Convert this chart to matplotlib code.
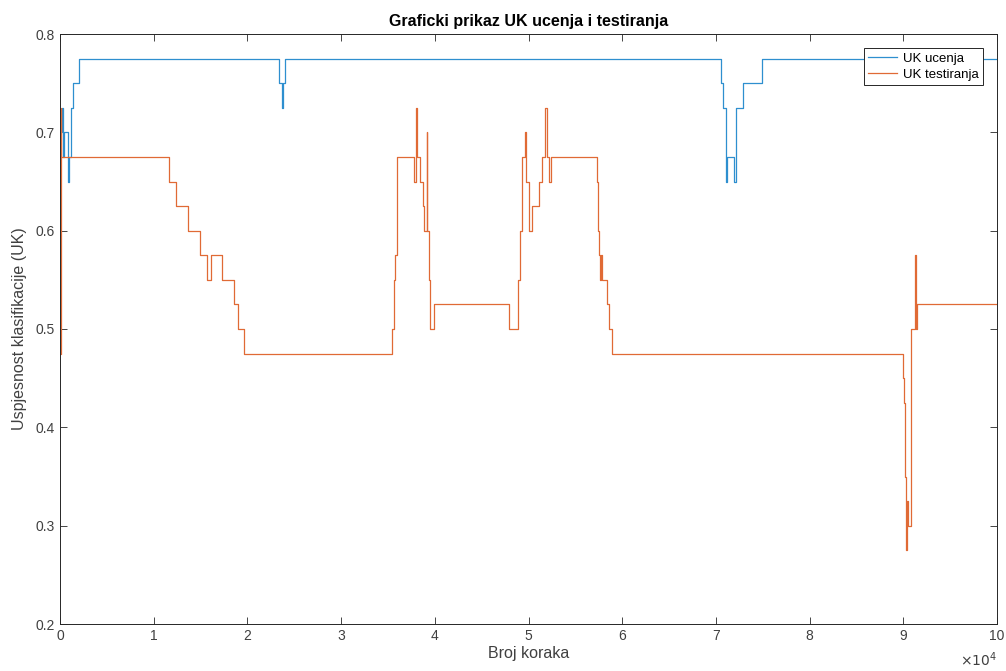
import matplotlib.pyplot as plt

# broj koraka (change points) and UK values
ucenje_x = [0, 180, 300, 450, 900, 1000, 1140, 1420, 2060,
            23410, 23660, 23840, 24050,
            70500, 70800, 71040, 71140, 71960, 72110, 72850, 74880, 100000]
ucenje_y = [0.7, 0.725, 0.675, 0.7, 0.65, 0.675, 0.725, 0.75, 0.775,
            0.75, 0.725, 0.75, 0.775,
            0.75, 0.725, 0.65, 0.675, 0.65, 0.725, 0.75, 0.775, 0.775]

test_x = [0, 60, 150, 11630, 12380, 13700, 14940, 15700, 16100, 17300, 18600, 19000, 19640,
          35470, 35600, 35700, 35930, 37820, 38020, 38070, 38450, 38700, 38900, 39120, 39180,
          39350, 39500, 39950,
          47920, 48920, 49090, 49300, 49630, 49700, 50090, 50410, 51120, 51470, 51760, 52000,
          52200, 52400, 57270, 57400, 57560, 57650, 57750, 57850, 58400, 58630, 58880,
          90000, 90110, 90200, 90300, 90360, 90450, 90820, 91280, 91330, 91430, 100000]
test_y = [0.475, 0.725, 0.675, 0.65, 0.625, 0.6, 0.575, 0.55, 0.575, 0.55, 0.525, 0.5, 0.475,
          0.5, 0.55, 0.575, 0.675, 0.65, 0.725, 0.675, 0.65, 0.625, 0.6, 0.7, 0.6,
          0.55, 0.5, 0.525,
          0.5, 0.55, 0.6, 0.675, 0.7, 0.65, 0.6, 0.625, 0.65, 0.675, 0.725, 0.675,
          0.65, 0.675, 0.65, 0.6, 0.575, 0.55, 0.575, 0.55, 0.525, 0.5, 0.475,
          0.45, 0.425, 0.35, 0.275, 0.325, 0.3, 0.5, 0.575, 0.5, 0.525, 0.525]

plt.rcParams['font.family'] = ['Liberation Sans', 'DejaVu Sans']
gray = '#262626'

fig = plt.figure(figsize=(10.06, 6.71), dpi=100)
ax = fig.add_axes([60 / 1006, 1 - 624 / 671, 937 / 1006, 590 / 671])

ax.plot([v / 1e4 for v in ucenje_x], ucenje_y, drawstyle='steps-post',
        color='#2E8FCF', lw=0.9, label='UK ucenja')
ax.plot([v / 1e4 for v in test_x], test_y, drawstyle='steps-post',
        color='#E06A35', lw=0.9, label='UK testiranja')

ax.set_xlim(0, 10)
ax.set_ylim(0.2, 0.8)
ax.set_xticks(range(0, 11))
ax.set_yticks([0.2, 0.3, 0.4, 0.5, 0.6, 0.7, 0.8])
ax.tick_params(direction='in', top=True, right=True, length=5, width=0.6,
               colors=gray, labelsize=10)
ax.tick_params(labelcolor='#404040')
for s in ax.spines.values():
    s.set_color(gray)
    s.set_linewidth(0.7)

ax.set_title('Graficki prikaz UK ucenja i testiranja', fontsize=11.5,
             fontweight='bold', color='black', pad=6)
ax.set_xlabel('Broj koraka', fontsize=11.5, color='#404040', labelpad=2)
ax.set_ylabel('Uspjesnost klasifikacije (UK)', fontsize=11.5, color='#404040', labelpad=6)
ax.text(1.0, -0.045, r'$\times10^4$', transform=ax.transAxes, ha='right', va='top',
        fontsize=10, color='#404040')

leg = ax.legend(loc='upper right', bbox_to_anchor=(0.985, 0.976), borderaxespad=0,
                fontsize=9.5, fancybox=False, framealpha=1, handlelength=2.2,
                handletextpad=0.4, borderpad=0.35, labelspacing=0.25)
leg.get_frame().set_edgecolor(gray)
leg.get_frame().set_linewidth(0.7)

fig.savefig('out.png', dpi=100)
